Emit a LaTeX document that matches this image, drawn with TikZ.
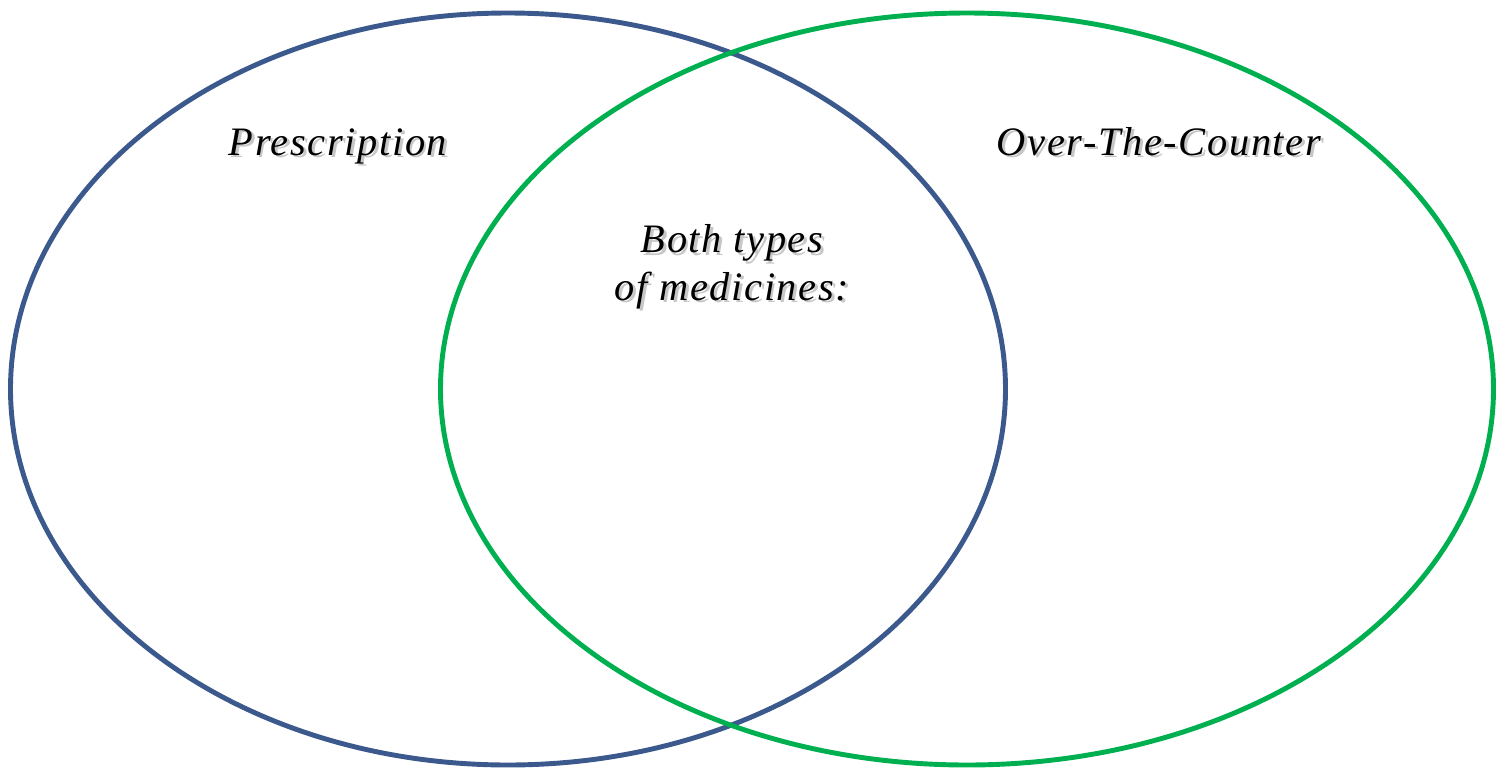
\documentclass[tikz,border=0pt]{standalone}
\usepackage{fontspec}
\setmainfont{Liberation Serif}
\newfontfamily\labelfont[LetterSpace=4]{Liberation Serif}
\definecolor{rxblue}{RGB}{59,89,140}
\definecolor{otcgreen}{RGB}{0,176,80}
\tikzset{
  ring/.style={line width=2.8pt},
  lbl/.style={font=\labelfont\itshape\fontsize{23}{27}\selectfont, align=center, inner sep=0pt, anchor=base},
  shade/.style={lbl, text=black!22}
}
\newcommand{\shlabel}[3]{%
  \node[shade] at ([xshift=1.6pt,yshift=-1.6pt]#2) {#3};
  \node[lbl] (#1) at (#2) {#3};}
\begin{document}
\begin{tikzpicture}[x=0.02cm, y=-0.02cm]
		\useasboundingbox (0,0) rectangle (1502,768);
		
		% cerchi
		\draw[ring, rxblue] (508,389) ellipse [x radius=497.5, y radius=376];
		\draw[ring, otcgreen] (967,389) ellipse [x radius=526.5, y radius=376];
		
		% etichette
		\shlabel{rx}{338,155}{Prescription}
		\shlabel{otc}{1159,155}{Over-The-Counter}
		\shlabel{both}{732,300}{Both types\\of medicines:}
		
	\end{tikzpicture}
\end{document}
